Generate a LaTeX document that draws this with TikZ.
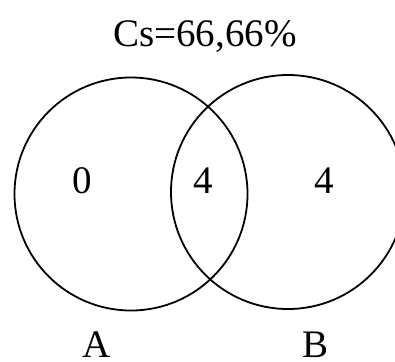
\documentclass[tikz,border=0pt]{standalone}
\usepackage{fontspec}
\setmainfont{Liberation Serif}
\begin{document}
\begin{tikzpicture}[
  x=1pt, y=-1pt,
  set/.style={circle, draw, line width=1.8pt, inner sep=0pt},
  count/.style={font=\fontsize{39}{45}\selectfont, anchor=base},
  setlabel/.style={font=\fontsize{39}{45}\selectfont, anchor=base, inner sep=0pt}
]
  \useasboundingbox (0,0) rectangle (395,361);
  \node[set, minimum size=233pt] (setA) at (131,194) {};
  \node[set, minimum size=234pt] (setB) at (288,192) {};

  \node[count] (title) at (205,46) {Cs=66,66\%};
  \node[count] (onlyA) at (82,193) {0};
  \node[count] (both) at (203,193) {4};
  \node[count] (onlyB) at (324,193) {4};
  \node[setlabel] (labelA) at (97,357) {A};
  \node[setlabel] (labelB) at (315,357) {B};
\end{tikzpicture}
\end{document}
